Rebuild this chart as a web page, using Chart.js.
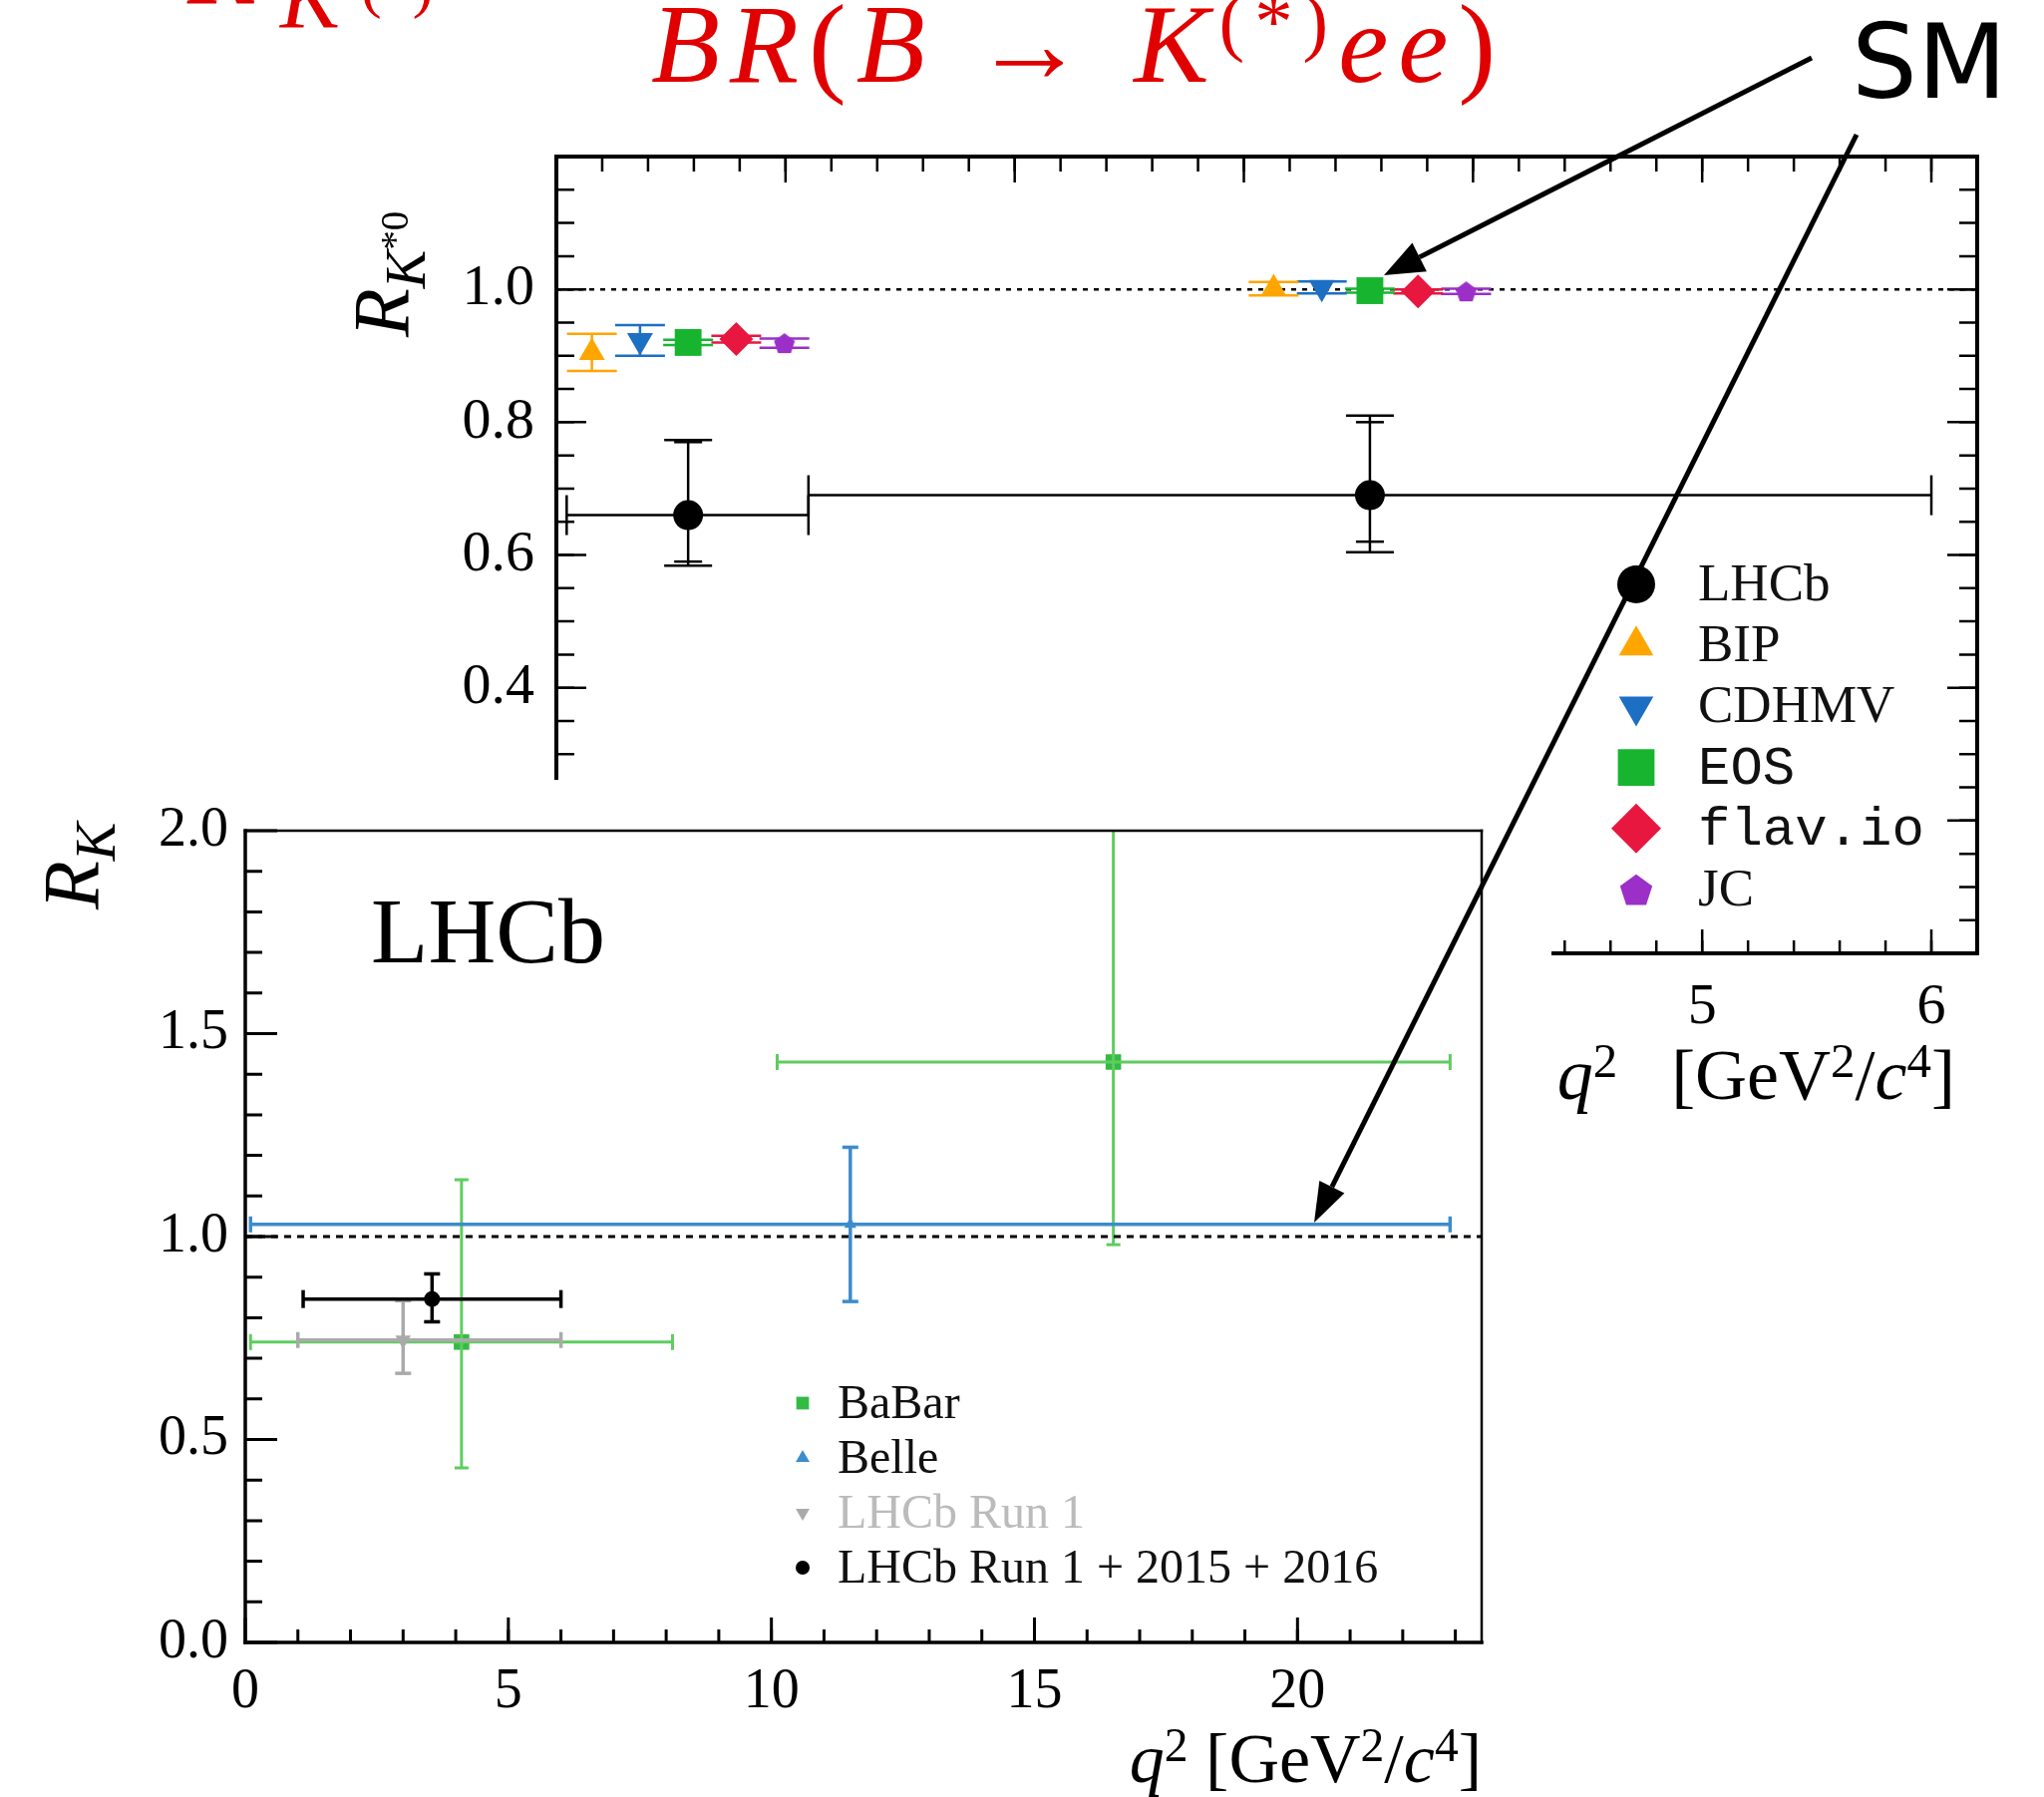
<!DOCTYPE html>
<html>
<head>
<meta charset="utf-8">
<title>R_K and R_K*0</title>
<script src="https://cdn.jsdelivr.net/npm/chart.js@4.4.1/dist/chart.umd.min.js"></script>
<style>
  html, body { margin: 0; padding: 0; background: #fff; }
  #page { position: relative; width: 2050px; height: 1802px; overflow: hidden; background: #fff; }
  #topChart { position: absolute; left: 0; top: 0; z-index: 1; }
  #botChart { position: absolute; left: 0; top: 782px; z-index: 2; background: #fff; }
  #arrows { position: absolute; left: 0; top: 0; z-index: 3; }
  .t { position: absolute; white-space: nowrap; line-height: 1; z-index: 4; font-family: 'Liberation Serif', serif; color: #000; }
  .sup { font-size: 0.68em; position: relative; top: -0.45em; }
  .sub { font-size: 0.72em; position: relative; top: 0.28em; }
  .rot { transform: rotate(-90deg); transform-origin: 0 0; }
  .red { color: #e00000; }
</style>
</head>
<body>
<div id="page">
  <canvas id="topChart" width="2050" height="1110"></canvas>
  <canvas id="botChart" width="1556" height="1020"></canvas>
  <svg id="arrows" width="2050" height="1802"></svg>

  <!-- cut-off red formula pieces at the top -->
  <div class="t red" style="left:188px;top:-92px;font-size:113px;font-style:italic">R</div>
  <div class="t red" style="left:281px;top:-47px;font-size:90px;font-style:italic">K</div>
  <div class="t red" style="left:362px;top:-46px;font-size:62px">(*)</div>
  <div class="t red" style="left:653px;top:-13px;font-size:113px;letter-spacing:10px"><i>BR</i>(<i>B</i> → <i>K</i><span class="sup">(*)</span><i>ee</i>)</div>
  <div class="t" style="left:1857px;top:10px;font-size:104px;font-family:'DejaVu Sans',sans-serif">SM</div>

  <!-- axis titles -->
  <div class="t rot" style="left:343px;top:338px;font-size:80px"><i>R</i><span class="sub"><i>K</i><span class="sup">*0</span></span></div>
  <div class="t" style="right:89px;top:1042px;font-size:72px"><i>q</i><span class="sup">2</span>&nbsp;&nbsp;&nbsp;[GeV<span class="sup">2</span>/<i>c</i><span class="sup">4</span>]</div>
  <div class="t rot" style="left:32px;top:912px;font-size:80px"><i>R</i><span class="sub"><i>K</i></span></div>
  <div class="t" style="right:564px;top:1729px;font-size:70px"><i>q</i><span class="sup">2</span>&nbsp;[GeV<span class="sup">2</span>/<i>c</i><span class="sup">4</span>]</div>
  <div class="t" style="left:372px;top:886px;font-size:94px">LHCb</div>
</div>

<script>
// ---------- top panel: R_K*0 ----------
const kstBinLo = [0.045, 1.1];
const kstBinHi = [1.1, 6.0];
const kstQ2 = [0.575, 3.55];
const kstVal = [0.66, 0.69];
const kstStatUp = [0.11, 0.11];
const kstStatDn = [0.07, 0.07];
const kstTotUp = [0.113, 0.12];
const kstTotDn = [0.076, 0.086];

// SM predictions, low and central q2 bin
const smNames = ['BIP', 'CDHMV', 'EOS', 'flav.io', 'JC'];
const smQ2Low = [0.155, 0.365, 0.575, 0.785, 0.995];
const smQ2Cen = [3.13, 3.34, 3.55, 3.76, 3.97];
const smValLow = [0.905, 0.923, 0.920, 0.925, 0.919];
const smErrLow = [0.028, 0.023, 0.004, 0.005, 0.007];
const smValCen = [1.001, 1.003, 0.998, 0.997, 0.997];
const smErrCen = [0.010, 0.009, 0.003, 0.003, 0.004];

const topXTicks = [0, 1, 2, 3, 4, 5, 6];
const topYTicks = [0.2, 0.4, 0.6, 0.8, 1.0];

// ---------- bottom panel: R_K ----------
const rkNames = ['BaBar', 'Belle', 'LHCb Run 1', 'LHCb Run 1 + 2015 + 2016'];
const babarQ2 = [4.11, 16.5];
const babarLo = [0.1, 10.11];
const babarHi = [8.12, 22.9];
const babarVal = [0.74, 1.43];
const babarUp = [0.40, 0.65];
const babarDn = [0.31, 0.45];
const belleQ2 = [11.5];
const belleLo = [0.1];
const belleHi = [22.9];
const belleVal = [1.03];
const belleUp = [0.19];
const belleDn = [0.19];
const run1Q2 = [3.0];
const run1Lo = [1.0];
const run1Hi = [6.0];
const run1Val = [0.745];
const run1Up = [0.097];
const run1Dn = [0.082];
const run2Q2 = [3.55];
const run2Lo = [1.1];
const run2Hi = [6.0];
const run2Val = [0.846];
const run2Up = [0.062];
const run2Dn = [0.056];

const botXTicks = [0, 5, 10, 15, 20];
const botYTicks = [0, 0.5, 1.0, 1.5, 2.0];

// styles
const smColors = ['#ffa500', '#1d6fc4', '#17b52f', '#e8173f', '#9b2fc8'];
const smStyles = ['triangle', 'triangle', 'rect', 'rectRot', 'pent'];
const smRot = [0, 180, 0, 0, 0];
const smRadius = [15, 15, 19, 17, 10];
const rkColors = ['#33bb44', '#3d8ccc', '#aaaaaa', '#000000'];
const rkBarColors = ['#5fcc5f', '#3d8ccc', '#aaaaaa', '#000000'];

function range(a, b, s) {
  const out = [];
  for (let k = 0; a + k * s <= b + 1e-9; k++) out.push(+(a + k * s).toFixed(4));
  return out;
}

function pentagon(r, color) {
  const c = document.createElement('canvas');
  const s = Math.ceil(2 * r + 4);
  c.width = s; c.height = s;
  const g = c.getContext('2d');
  g.fillStyle = color;
  g.beginPath();
  for (let k = 0; k < 5; k++) {
    const a = -Math.PI / 2 + k * 2 * Math.PI / 5;
    g.lineTo(s / 2 + r * Math.cos(a), s / 2 + r * Math.sin(a) + r * 0.1);
  }
  g.closePath();
  g.fill();
  return c;
}
const pentPlot = pentagon(11, smColors[4]);
const pentLegend = pentagon(17, smColors[4]);
function styleOf(i, legend) {
  return smStyles[i] === 'pent' ? (legend ? pentLegend : pentPlot) : smStyles[i];
}

// error bars drawn as 2-point lines, caps via the 'line' point style
function vErr(x, lo, hi, color, width, cap, order) {
  return { data: [{ x, y: lo }, { x, y: hi }], showLine: true, borderColor: color, borderWidth: width,
    pointStyle: 'line', pointRadius: cap, pointBorderColor: color, pointBorderWidth: width, order };
}
function hErr(y, lo, hi, color, width, cap, order) {
  return { data: [{ x: lo, y }, { x: hi, y }], showLine: true, borderColor: color, borderWidth: width,
    pointStyle: 'line', pointRotation: 90, pointRadius: cap, pointBorderColor: color, pointBorderWidth: width, order };
}
function capsOnly(x, ys, color, width, cap, order) {
  return { data: ys.map(y => ({ x, y })), showLine: false, pointStyle: 'line', pointRadius: cap,
    pointBorderColor: color, pointBorderWidth: width, order };
}
function pts(xs, ys) { return xs.map((x, i) => ({ x, y: ys[i] })); }

// inward tick marks + frame
const frameTicks = {
  id: 'frameTicks',
  afterDatasetsDraw(chart, args, opts) {
    const { ctx, chartArea: a, scales } = chart;
    ctx.save();
    ctx.strokeStyle = '#000';
    ctx.lineCap = 'butt';
    (opts.sides || []).forEach(sd => {
      const vert = sd.pos === 'left' || sd.pos === 'right';
      const sc = vert ? scales.y : scales.x;
      [[sd.minor, sd.minorLen], [sd.major, sd.majorLen]].forEach(([vals, len]) => {
        ctx.lineWidth = opts.tickWidth;
        ctx.beginPath();
        vals.forEach(v => {
          const p = sc.getPixelForValue(v);
          if (sd.pos === 'left') { ctx.moveTo(a.left, p); ctx.lineTo(a.left + len, p); }
          if (sd.pos === 'right') { ctx.moveTo(a.right, p); ctx.lineTo(a.right - len, p); }
          if (sd.pos === 'top') { ctx.moveTo(p, a.top); ctx.lineTo(p, a.top + len); }
          if (sd.pos === 'bottom') { ctx.moveTo(p, a.bottom); ctx.lineTo(p, a.bottom - len); }
        });
        ctx.stroke();
      });
    });
    const b = opts.border;
    ctx.lineCap = 'square';
    const edge = (w, x1, y1, x2, y2) => { ctx.lineWidth = w; ctx.beginPath(); ctx.moveTo(x1, y1); ctx.lineTo(x2, y2); ctx.stroke(); };
    edge(b.top, a.left, a.top, a.right, a.top);
    edge(b.right, a.right, a.top, a.right, a.bottom);
    edge(b.bottom, a.left, a.bottom, a.right, a.bottom);
    edge(b.left, a.left, a.top, a.left, a.bottom);
    ctx.restore();
  }
};

// simple legend drawn at a fixed spot
const panelLegend = {
  id: 'panelLegend',
  afterDraw(chart, args, opts) {
    if (!opts.items) return;
    const ctx = chart.ctx;
    ctx.save();
    opts.items.forEach((it, i) => {
      const y = opts.y + i * opts.dy;
      ctx.fillStyle = it.color;
      ctx.strokeStyle = it.color;
      Chart.helpers.drawPoint(ctx, { pointStyle: it.style, rotation: it.rotation || 0, radius: it.radius, borderWidth: 0 }, opts.x, y);
      ctx.font = it.font;
      ctx.fillStyle = it.textColor || '#111';
      ctx.textBaseline = 'middle';
      ctx.textAlign = 'left';
      ctx.fillText(it.text, opts.textX, y + 2);
    });
    ctx.restore();
  }
};

function axis(min, max, ticksArr, fmt, size, pad, fit, isY) {
  return {
    type: 'linear', min, max,
    grid: { display: false, drawTicks: false },
    border: { display: false },
    afterBuildTicks: s => { s.ticks = ticksArr.map(v => ({ value: v })); },
    afterFit: s => { if (isY) s.width = fit; else s.height = fit; },
    ticks: { autoSkip: false, maxRotation: 0, minRotation: 0, padding: pad, color: '#000',
      font: { family: 'Liberation Serif', size }, callback: fmt }
  };
}

// ---------- top chart ----------
const topSets = [];
topSets.push({ data: [{ x: 0, y: 1 }, { x: 6.2, y: 1 }], showLine: true, borderColor: '#000', borderWidth: 2.5,
  borderDash: [5, 6], pointRadius: 0, order: 30 });
smNames.forEach((n, i) => {
  topSets.push(vErr(smQ2Low[i], smValLow[i] - smErrLow[i], smValLow[i] + smErrLow[i], smColors[i], 2.5, 25, 20));
  topSets.push(vErr(smQ2Cen[i], smValCen[i] - smErrCen[i], smValCen[i] + smErrCen[i], smColors[i], 2.5, 25, 20));
  topSets.push({ label: n, data: [{ x: smQ2Low[i], y: smValLow[i] }, { x: smQ2Cen[i], y: smValCen[i] }],
    showLine: false, pointStyle: styleOf(i, false), pointRotation: smRot[i], pointRadius: smRadius[i],
    pointBackgroundColor: smColors[i], pointBorderWidth: 0, order: 10 });
});
kstQ2.forEach((x, i) => {
  topSets.push(hErr(kstVal[i], kstBinLo[i], kstBinHi[i], '#000', 2.5, 20, 15));
  topSets.push(vErr(x, kstVal[i] - kstTotDn[i], kstVal[i] + kstTotUp[i], '#000', 2.5, 24, 15));
  topSets.push(capsOnly(x, [kstVal[i] - kstStatDn[i], kstVal[i] + kstStatUp[i]], '#000', 2.5, 14, 15));
});
topSets.push({ label: 'LHCb', data: pts(kstQ2, kstVal), showLine: false, pointStyle: 'circle', pointRadius: 15,
  pointBackgroundColor: '#000', pointBorderWidth: 0, order: 5 });

const topLegendItems = [{ text: 'LHCb', style: 'circle', radius: 19, color: '#000', font: '53px "Liberation Serif"' }]
  .concat(smNames.map((n, i) => ({
    text: n, style: styleOf(i, true), rotation: smRot[i], color: smColors[i],
    radius: [20, 20, 26, 25, 10][i],
    font: (n === 'EOS' || n === 'flav.io') ? '54px "Liberation Mono"' : '53px "Liberation Serif"'
  })));

new Chart(document.getElementById('topChart'), {
  type: 'scatter',
  data: { datasets: topSets },
  options: {
    responsive: false, animation: false, devicePixelRatio: 1,
    layout: { padding: { top: 157, right: 67, left: 0, bottom: 0 } },
    scales: {
      x: axis(0, 6.2, topXTicks, v => String(v), 58, 20, 154, false),
      y: axis(0, 1.2, topYTicks, v => Number(v).toFixed(1), 58, 22, 558, true)
    },
    plugins: {
      legend: { display: false }, tooltip: { enabled: false },
      frameTicks: {
        tickWidth: 2.5,
        border: { left: 4, right: 4, top: 4, bottom: 4 },
        sides: [
          { pos: 'left', major: range(0.2, 1.2, 0.2), minor: range(0.05, 1.15, 0.05), majorLen: 30, minorLen: 18 },
          { pos: 'right', major: range(0.2, 1.2, 0.2), minor: range(0.05, 1.15, 0.05), majorLen: 30, minorLen: 18 },
          { pos: 'top', major: topXTicks, minor: range(0.2, 6.2, 0.2), majorLen: 26, minorLen: 15 },
          { pos: 'bottom', major: topXTicks, minor: range(0.2, 6.2, 0.2), majorLen: 24, minorLen: 13 }
        ]
      },
      panelLegend: { x: 1641, textX: 1703, y: 586, dy: 61.2, items: topLegendItems }
    }
  },
  plugins: [frameTicks, panelLegend]
});

// ---------- bottom chart ----------
const botSets = [];
botSets.push({ data: [{ x: 0, y: 1 }, { x: 23.5, y: 1 }], showLine: true, borderColor: '#000', borderWidth: 3,
  borderDash: [7, 6], pointRadius: 0, order: 4 });
babarQ2.forEach((x, i) => {
  botSets.push(hErr(babarVal[i], babarLo[i], babarHi[i], rkBarColors[0], 3, 8, 5));
  botSets.push(vErr(x, babarVal[i] - babarDn[i], babarVal[i] + babarUp[i], rkBarColors[0], 3, 7, 5));
});
botSets.push({ label: rkNames[0], data: pts(babarQ2, babarVal), showLine: false, pointStyle: 'rect', pointRadius: 11,
  pointBackgroundColor: rkColors[0], pointBorderWidth: 0, order: 5 });
belleQ2.forEach((x, i) => {
  botSets.push(hErr(belleVal[i], belleLo[i], belleHi[i], rkBarColors[1], 3.5, 8, 3));
  botSets.push(vErr(x, belleVal[i] - belleDn[i], belleVal[i] + belleUp[i], rkBarColors[1], 3.5, 8, 3));
});
botSets.push({ label: rkNames[1], data: pts(belleQ2, belleVal), showLine: false, pointStyle: 'triangle', pointRadius: 7,
  pointBackgroundColor: rkColors[1], pointBorderWidth: 0, order: 3 });
run1Q2.forEach((x, i) => {
  botSets.push(hErr(run1Val[i], run1Lo[i], run1Hi[i], rkBarColors[2], 3.5, 8, 2));
  botSets.push(vErr(x, run1Val[i] - run1Dn[i], run1Val[i] + run1Up[i], rkBarColors[2], 3.5, 8, 2));
});
botSets.push({ label: rkNames[2], data: pts(run1Q2, run1Val), showLine: false, pointStyle: 'triangle', pointRotation: 180,
  pointRadius: 9, pointBackgroundColor: rkColors[2], pointBorderWidth: 0, order: 2 });
run2Q2.forEach((x, i) => {
  botSets.push(hErr(run2Val[i], run2Lo[i], run2Hi[i], rkBarColors[3], 3.5, 9, 1));
  botSets.push(vErr(x, run2Val[i] - run2Dn[i], run2Val[i] + run2Up[i], rkBarColors[3], 3.5, 8, 1));
});
botSets.push({ label: rkNames[3], data: pts(run2Q2, run2Val), showLine: false, pointStyle: 'circle', pointRadius: 8,
  pointBackgroundColor: rkColors[3], pointBorderWidth: 0, order: 1 });

const botLegendItems = rkNames.map((n, i) => ({
  text: n, color: rkColors[i], font: '48px "Liberation Serif"',
  style: ['rect', 'triangle', 'triangle', 'circle'][i], rotation: [0, 0, 180, 0][i], radius: [9, 8, 8, 7][i],
  textColor: i === 2 ? '#bbbbbb' : '#111'
}));

new Chart(document.getElementById('botChart'), {
  type: 'scatter',
  data: { datasets: botSets },
  options: {
    responsive: false, animation: false, devicePixelRatio: 1,
    layout: { padding: { top: 51, right: 70, left: 0, bottom: 0 } },
    scales: {
      x: axis(0, 23.5, botXTicks, v => String(v), 56, 17, 155, false),
      y: axis(0, 2.0, botYTicks, v => Number(v).toFixed(1), 56, 17, 246, true)
    },
    plugins: {
      legend: { display: false }, tooltip: { enabled: false },
      frameTicks: {
        tickWidth: 3,
        border: { left: 3.5, right: 2.5, top: 2.5, bottom: 3.5 },
        sides: [
          { pos: 'left', major: botYTicks, minor: range(0.1, 1.9, 0.1), majorLen: 32, minorLen: 17 },
          { pos: 'bottom', major: botXTicks, minor: range(1, 23, 1), majorLen: 25, minorLen: 13 }
        ]
      },
      panelLegend: { x: 805, textX: 840, y: 625, dy: 55, items: botLegendItems }
    }
  },
  plugins: [frameTicks, panelLegend]
});

// ---------- annotation arrows ----------
function arrow(svg, x1, y1, x2, y2, len, half) {
  const dx = x2 - x1, dy = y2 - y1, d = Math.hypot(dx, dy);
  const ux = dx / d, uy = dy / d;
  const bx = x2 - len * ux, by = y2 - len * uy;
  const nx = -uy * half, ny = ux * half;
  svg.insertAdjacentHTML('beforeend',
    `<line x1="${x1}" y1="${y1}" x2="${bx}" y2="${by}" stroke="#000" stroke-width="5"/>` +
    `<polygon points="${x2},${y2} ${bx + nx},${by + ny} ${bx - nx},${by - ny}" fill="#000"/>`);
}
const svg = document.getElementById('arrows');
arrow(svg, 1817, 58, 1388, 276, 40, 16);
arrow(svg, 1862, 135, 1318, 1226, 40, 14);
</script>
</body>
</html>
